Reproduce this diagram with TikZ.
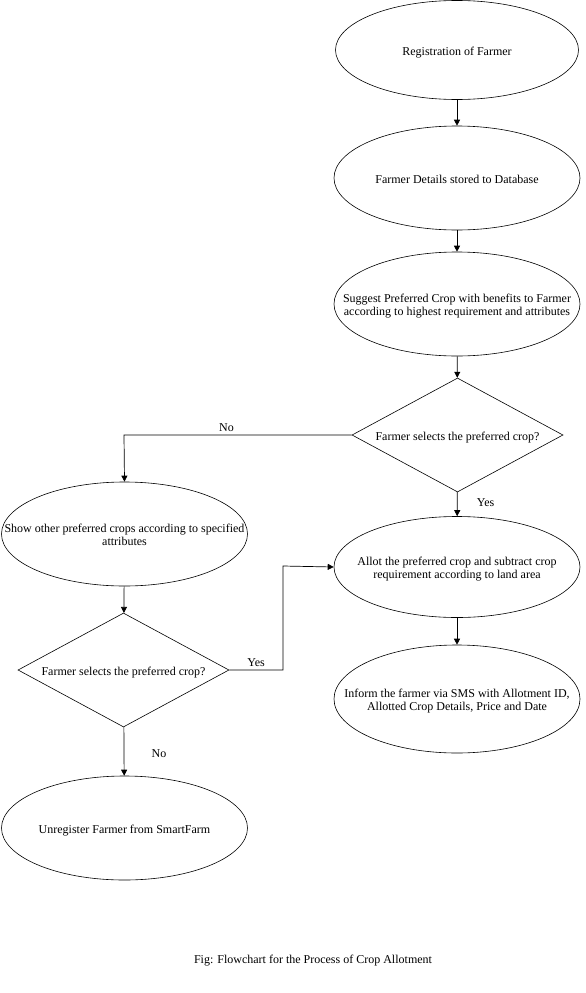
\documentclass[tikz,border=0pt]{standalone}
\usepackage{fontspec}
\setmainfont{Liberation Serif}
\usetikzlibrary{shapes.geometric,arrows.meta}
\newcommand{\zbox}[1]{\raisebox{-2.5pt}[\height][\depth]{\makebox[0pt]{\begin{tabular}{@{}c@{}}#1\end{tabular}}}}
\begin{document}
\begin{tikzpicture}[x=1pt,y=-1pt,
  every node/.style={font=\fontsize{12}{13.5}\selectfont},
  ell/.style={draw,ellipse,minimum width=246pt,minimum height=104pt,inner sep=0pt,align=center,line width=0.6pt},
  dia/.style={draw,diamond,minimum width=211pt,minimum height=114pt,inner sep=0pt,aspect=1.85,align=center,line width=0.6pt},
  arr/.style={-{Triangle[length=6pt,width=6pt]},line width=0.7pt},
  lbl/.style={font=\fontsize{12}{13.5}\selectfont}]
\useasboundingbox (0,0) rectangle (586,993);
\node[ell,minimum width=243pt,minimum height=99pt] (reg) at (457,50) {\zbox{Registration of Farmer}};
\node[ell] (det) at (457,178) {\zbox{Farmer Details stored to Database}};
\node[ell] (sug) at (457,304) {\zbox{Suggest Preferred Crop with benefits to Farmer\\according to highest requirement and attributes}};
\node[dia] (d1) at (457.5,435) {\zbox{Farmer selects the preferred crop?}};
\node[ell,minimum height=101pt] (all) at (457,567) {\zbox{Allot the preferred crop and subtract crop\\requirement according to land area}};
\node[ell,minimum height=108pt] (inf) at (457,699) {\zbox{Inform the farmer via SMS with Allotment ID,\\Allotted Crop Details, Price and Date}};
\node[ell] (sho) at (124.5,534) {\zbox{Show other preferred crops according to specified\\attributes}};
\node[dia] (d2) at (123.5,670) {\zbox{Farmer selects the preferred crop?}};
\node[ell] (unr) at (124.5,828) {\zbox{Unregister Farmer from SmartFarm}};
\node (cap) at (313,961) {Fig: Flowchart for the Process of Crop Allotment};
\draw[arr] (reg) -- (det);
\draw[arr] (det) -- (sug);
\draw[arr] (sug) -- (d1);
\draw[arr] (d1) -- node[lbl,pos=0.45,right=16pt]{Yes} (all);
\draw[arr] (d1.west) -- node[lbl,pos=0.55,above]{No} (124,435) -- (sho.north);
\draw[arr] (sho) -- (d2);
\draw[arr] (d2.east) -- node[lbl,above]{Yes} (283,670) -- (283,566) -- (all.west);
\draw[arr] (d2) -- node[lbl,pos=0.55,right=24pt]{No} (unr);
\draw[arr] (all) -- (inf);
\end{tikzpicture}
\end{document}
